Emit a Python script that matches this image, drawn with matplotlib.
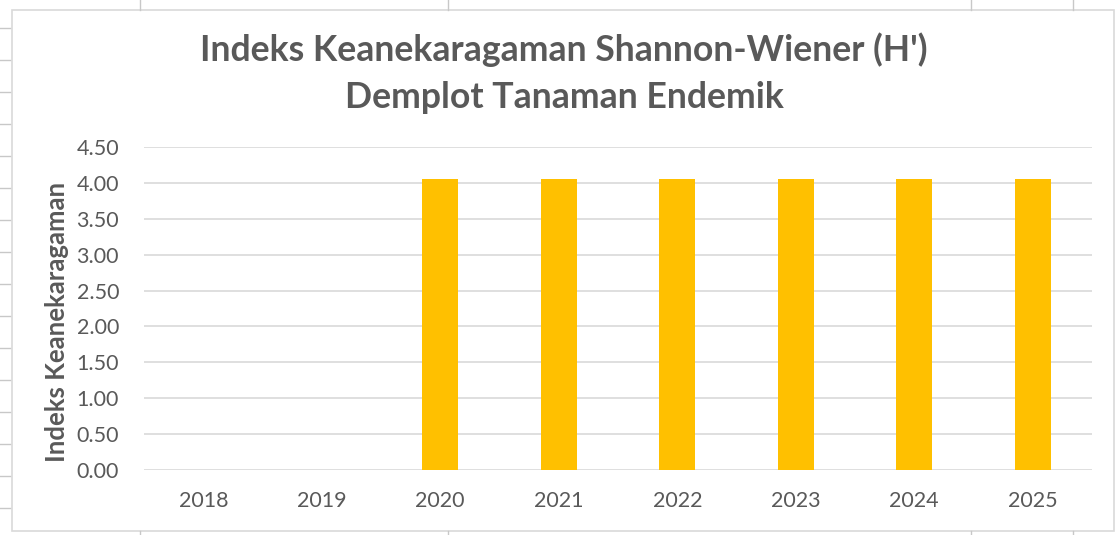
import matplotlib.pyplot as plt
from matplotlib.lines import Line2D
from matplotlib.patches import Rectangle

years = ["2018", "2019", "2020", "2021", "2022", "2023", "2024", "2025"]
indeks_h = [0, 0, 4.06, 4.06, 4.06, 4.06, 4.06, 4.06]
y_ticks = [0, 0.5, 1.0, 1.5, 2.0, 2.5, 3.0, 3.5, 4.0, 4.5]

title1 = "Indeks Keanekaragaman Shannon-Wiener (H')"
title2 = "Demplot Tanaman Endemik"
y_label = "Indeks Keanekaragaman"

TEXT = "#595959"
GRID = "#d9d9d9"
BAR = "#ffc000"

plt.rcParams['font.family'] = ['Lato', 'DejaVu Sans']

W, H = 1116, 535
fig = plt.figure(figsize=(W / 100, H / 100), dpi=100)

# spreadsheet cell lines peeking out behind the chart
for x in [140, 448, 971, 1073]:
    fig.add_artist(Line2D([x / W, x / W], [1, 1 - 10 / H], color="#c8c8c8", lw=1))
    fig.add_artist(Line2D([x / W, x / W], [0, 4 / H], color="#c8c8c8", lw=1))
for y in range(28, 535, 32):
    fig.add_artist(Line2D([0, 10 / W], [1 - y / H, 1 - y / H], color="#c8c8c8", lw=1))

# chart frame
fig.add_artist(Rectangle((12 / W, 4 / H), (1114 - 12) / W, (525 - 4) / H,
                         transform=fig.transFigure, facecolor="white",
                         edgecolor=GRID, lw=1.2, zorder=0))

ax = fig.add_axes([144 / W, 1 - 470 / H, (1092 - 144) / W, (470 - 147) / H])
ax.set_facecolor("none")
x = range(len(years))
ax.bar(x, indeks_h, width=0.3, color=BAR, zorder=3)

ax.set_xlim(-0.5, len(years) - 0.5)
ax.set_ylim(0, 4.5)
ax.set_yticks(y_ticks)
ax.set_yticklabels([f"{v:.2f}" for v in y_ticks])
ax.set_xticks(list(x))
ax.set_xticklabels(years)
ax.grid(axis="y", color=GRID, lw=1.2, zorder=0)
for s in ax.spines.values():
    s.set_visible(False)
ax.tick_params(length=0, labelsize=15.5, colors=TEXT)
ax.tick_params(axis="y", pad=18)
ax.tick_params(axis="x", pad=15)

fig.text(57 / W, 1 - 322 / H, y_label, rotation=90, ha="center", va="center",
         fontsize=18.5, fontweight="bold", color=TEXT)

fig.text(564 / W, 1 - 61 / H, title1, ha="center", va="baseline", fontsize=25.7,
         fontweight="bold", color=TEXT)
fig.text(564 / W, 1 - 108 / H, title2, ha="center", va="baseline", fontsize=25.7,
         fontweight="bold", color=TEXT)

fig.savefig("out.png", dpi=100)
